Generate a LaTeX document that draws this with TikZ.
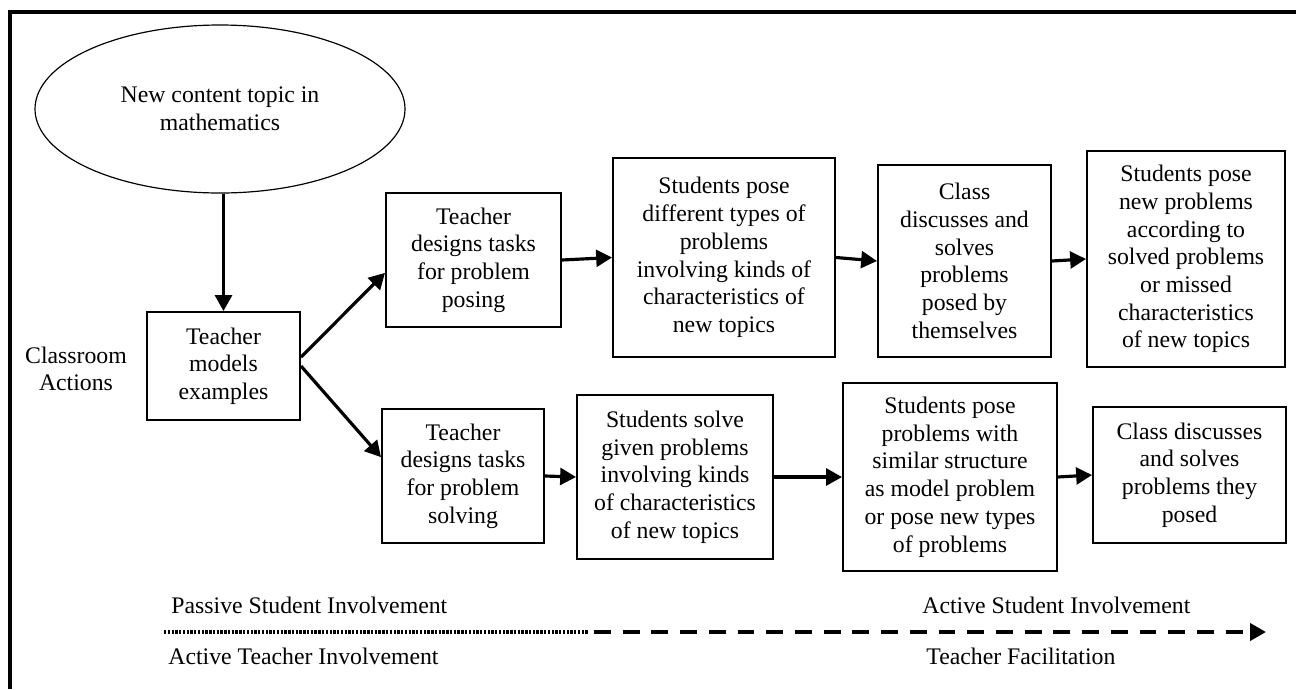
\documentclass[tikz,border=0pt]{standalone}
\usepackage{fontspec}
\setmainfont{Liberation Serif}
\usetikzlibrary{arrows.meta,shapes.geometric}

\begin{document}
\begin{tikzpicture}[x=0.505pt,y=-0.505pt,
    every node/.style={font=\fontsize{12}{14}\selectfont},
    actbox/.style={draw,line width=1pt,align=center,inner sep=2pt},
    dims/.style 2 args={minimum width=#1*0.505pt,minimum height=#2*0.505pt},
    flow/.style={line width=1.6pt,-{Triangle[length=8pt,width=8.5pt]}}]
    \useasboundingbox (0,0) rectangle (1296,689);
    % frame
    \draw[line width=1.8pt] (10,689) -- (10,12) -- (1296,12);
    % topic and start
    \node[draw,ellipse,line width=0.6pt,dims={370}{168},align=center] (topic)
      at (220,109) {New content topic in\\mathematics};
    \node[align=center] (actions) at (76,369) {Classroom\\Actions};
    \node[actbox,dims={153}{108}] (models) at (223.5,366)
      {Teacher\\models\\examples};
    % top row
    \node[actbox,dims={175}{134}] (posetask) at (473.5,260)
      {Teacher\\designs tasks\\for problem\\posing};
    \node[actbox,dims={222}{199}] (posetypes) at (724,257.5)
      {Students pose\\different types of\\problems\\involving kinds of\\characteristics of\\new topics};
    \node[actbox,dims={173}{192}] (posediscuss) at (964.5,261)
      {Class\\discusses and\\solves\\problems\\posed by\\themselves};
    \node[actbox,dims={198}{216}] (posenew) at (1186,259)
      {Students pose\\new problems\\according to\\solved problems\\or missed\\characteristics\\of new topics};
    % bottom row
    \node[actbox,dims={162}{134}] (solvetask) at (463,476)
      {Teacher\\designs tasks\\for problem\\solving};
    \node[actbox,dims={196}{164}] (solvegiven) at (675,477)
      {Students solve\\given problems\\involving kinds\\of characteristics\\of new topics};
    \node[actbox,dims={214}{188}] (solvepose) at (950,477)
      {Students pose\\problems with\\similar structure\\as model problem\\or pose new types\\of problems};
    \node[actbox,dims={193}{136}] (solvediscuss) at (1189.5,475)
      {Class discusses\\and solves\\problems they\\posed};
    % connectors
    \draw[flow] (topic.south -| models.north) -- (models.north);
    \draw[flow] ([yshift=4.5pt]models.east) -- ([yshift=-6.5pt]posetask.west);
    \draw[flow] (models.east) -- ([yshift=9.5pt]solvetask.west);
    \draw[flow] (posetask.east) -- (posetypes.west);
    \draw[flow] (posetypes.east) -- (posediscuss.west);
    \draw[flow] (posediscuss.east) -- (posenew.west);
    \draw[flow] (solvetask.east) -- (solvegiven.west);
    \draw[flow] (solvegiven.east) -- (solvepose.west);
    \draw[flow] (solvepose.east) -- (solvediscuss.west);
    % involvement axis
    \coordinate (dotfrom) at (164,632);
    \coordinate (dotto) at (588,632);
    \coordinate (dashfrom) at (594,632);
    \coordinate (dashto) at (1266,632);
    \draw[line width=2pt,dash pattern=on 1.2pt off 0.7pt] (dotfrom) -- (dotto);
    \draw[line width=2pt,dash pattern=on 8.5pt off 6pt,
      -{Triangle[length=8pt,width=8.5pt]}] (dashfrom) -- (dashto);
    \node[anchor=west,inner sep=0pt] (passive) at (171,605)
      {Passive Student Involvement};
    \node[anchor=west,inner sep=0pt] (teachact) at (168,656)
      {Active Teacher Involvement};
    \node[anchor=west,inner sep=0pt] (studact) at (922,605)
      {Active Student Involvement};
    \node[anchor=west,inner sep=0pt] (facil) at (926,656)
      {Teacher Facilitation};
\end{tikzpicture}
\end{document}
